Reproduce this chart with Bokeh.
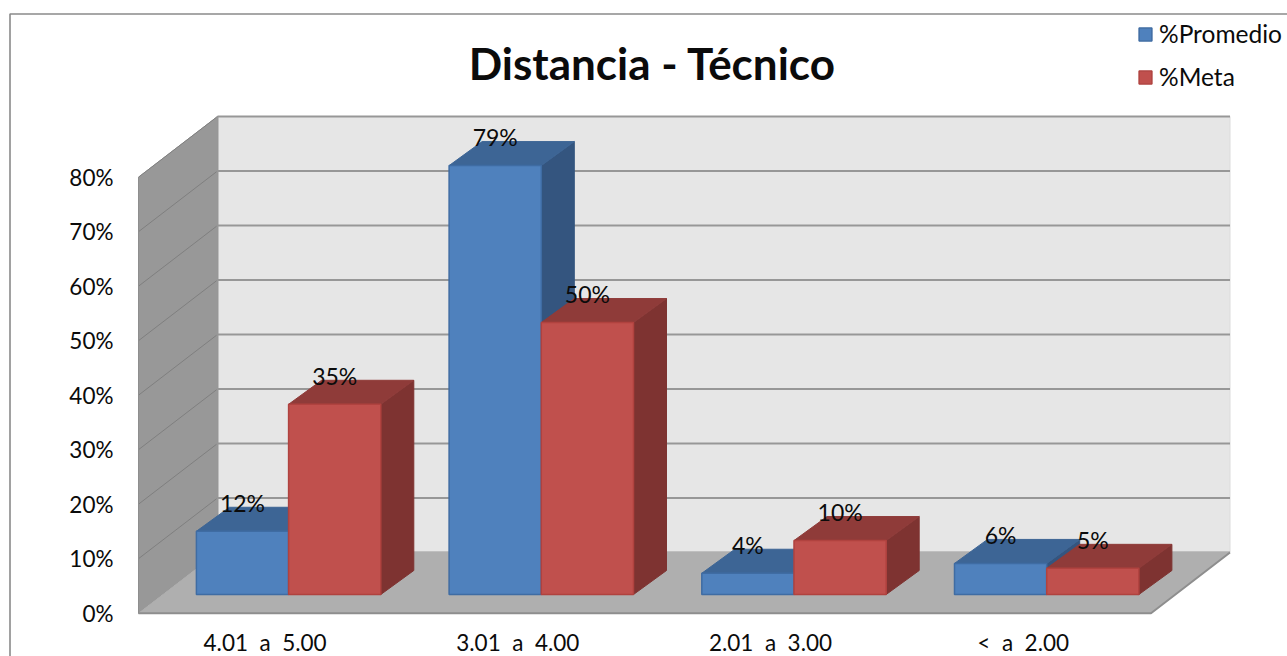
from bokeh.embed import file_html
from bokeh.resources import INLINE
from bokeh.plotting import figure
from bokeh.models import ColumnDataSource, FixedTicker, Legend, LegendItem
from bokeh.core.properties import value

# ---- data ----
categories = ["4.01\u00a0 a \u00a05.00", "3.01\u00a0 a \u00a04.00", "2.01\u00a0 a \u00a03.00", "<\u00a0 a \u00a02.00"]
promedio = [11.6, 78.7, 3.9, 5.7]
meta = [34.9, 49.9, 9.9, 4.8]
y_ticks = [0, 10, 20, 30, 40, 50, 60, 70, 80]
y_tick_labels = ["0%", "10%", "20%", "30%", "40%", "50%", "60%", "70%", "80%"]
title_text = "Distancia - Técnico"
series_names = ["%Promedio", "%Meta"]

# ---- layout ----
W, H = 1287, 656
PX_X = 252.7          # pixels per category
PX_Y = 5.45           # pixels per percent
X0_PX = 264.6         # page x of first category on the front plane
Y0_PX = 612.7         # page y of 0% on the front plane


def X(px):
    return (px - X0_PX) / PX_X


def Y(py):
    return (Y0_PX - py) / PX_Y


x_start, x_end = X(0), X(W)
y_start, y_end = Y(H), Y(0)

# plot box
WALL_L = X(138)
WALL_R = X(1150.5)
DEPTH_X = 79 / PX_X
DEPTH_Y = 60.7 / PX_Y
TOP = y_ticks[-1]

# bars
BAR_W = 92.2 / PX_X
BAR_SHIFT_X = 23.5 / PX_X
BAR_BASE = 18.7 / PX_Y
BAR_DX = 33 / PX_X
BAR_DY = 24 / PX_Y

FONT = value("Lato")
TXT = "#0b0b0b"

p = figure(width=W, height=H, output_backend="svg", toolbar_location=None,
           x_range=(x_start, x_end), y_range=(y_start, y_end),
           min_border=0, min_border_left=0, min_border_right=0,
           min_border_top=0, min_border_bottom=0, outline_line_color=None,
           background_fill_color="white", border_fill_color="white")
p.grid.visible = False

# chart frame
p.line([X(9.5), X(9.5), X(W)], [y_start, Y(13.5), Y(13.5)], line_color="#8a8a8a", line_width=1.6)

# back wall
p.quad(left=[WALL_L + DEPTH_X], right=[WALL_R + DEPTH_X], bottom=[DEPTH_Y], top=[TOP + DEPTH_Y],
       fill_color="#E6E6E6", line_color="#DCDCDC", line_width=1)
# side wall
p.patch([WALL_L, WALL_L, WALL_L + DEPTH_X, WALL_L + DEPTH_X], [0, TOP, TOP + DEPTH_Y, DEPTH_Y],
        fill_color="#989898", line_color="#989898", line_width=1)

# gridlines
p.segment(x0=[WALL_L] * len(y_ticks), y0=y_ticks,
          x1=[WALL_L + DEPTH_X] * len(y_ticks), y1=[t + DEPTH_Y for t in y_ticks],
          line_color="#7f7f7f", line_width=1)
p.segment(x0=[WALL_L + DEPTH_X] * len(y_ticks), y0=[t + DEPTH_Y for t in y_ticks],
          x1=[WALL_R + DEPTH_X] * len(y_ticks), y1=[t + DEPTH_Y for t in y_ticks],
          line_color="#979797", line_width=2)
p.line([WALL_L + DEPTH_X] * 2, [DEPTH_Y, TOP + DEPTH_Y], line_color="#979797", line_width=2)

# floor
p.patch([WALL_L, WALL_L + DEPTH_X, WALL_R + DEPTH_X, WALL_R], [0, DEPTH_Y, DEPTH_Y, 0],
        fill_color="#AFAFAF", line_color="#AFAFAF", line_width=1)
p.line([WALL_L, WALL_L], [0, TOP], line_color="#8e8e8e", line_width=1)
p.line([WALL_L, WALL_R, WALL_R + DEPTH_X], [0, 0, DEPTH_Y], line_color="#8e8e8e", line_width=2)


def bars(values, offset, front, top_c, side_c, edge):
    lefts = [i + BAR_SHIFT_X + offset * BAR_W - BAR_W for i in range(len(values))]
    rights = [l + BAR_W for l in lefts]
    bases = [BAR_BASE] * len(values)
    tops = [BAR_BASE + v for v in values]
    p.patches(
        xs=[[r, r + BAR_DX, r + BAR_DX, r] for r in rights],
        ys=[[b, b + BAR_DY, t + BAR_DY, t] for b, t in zip(bases, tops)],
        fill_color=side_c, line_color=side_c, line_width=1)
    p.patches(
        xs=[[l, l + BAR_DX, r + BAR_DX, r] for l, r in zip(lefts, rights)],
        ys=[[t, t + BAR_DY, t + BAR_DY, t] for t in tops],
        fill_color=top_c, line_color=top_c, line_width=1)
    face = p.quad(left=lefts, right=rights, bottom=bases, top=tops,
                  fill_color=front, line_color=edge, line_width=1.5)
    return face, lefts, rights, tops


blue = bars(promedio, 0, "#4F81BD", "#3D6595", "#34557F", "#3F6CA3")
red = bars(meta, 1, "#C0504D", "#8F3B39", "#7E3331", "#B0423F")

# value labels
lab_x, lab_y, lab_t = [], [], []
for (face, ls, rs, ts), vals in ((blue, promedio), (red, meta)):
    for l, r, t, v in zip(ls, rs, ts, vals):
        lab_x.append((l + r) / 2)
        lab_y.append(t)
        lab_t.append(f"{round(v)}%")
p.text(x="x", y="y", text="t", source=ColumnDataSource(dict(x=lab_x, y=lab_y, t=lab_t)),
       text_font=FONT, text_font_size="23px", text_color=TXT,
       text_align="center", text_baseline="middle", y_offset=-28.5)

# title
p.text(x=[X(652)], y=[Y(62)], text=[title_text], text_font=FONT, text_font_size="44px",
       text_font_style="bold", text_color=TXT, text_align="center", text_baseline="middle")

# axes, drawn inside the full-page frame
ya = p.yaxis[0]
ya.fixed_location = WALL_L
ya.ticker = FixedTicker(ticks=y_ticks)
ya.major_label_overrides = dict(zip(y_ticks, y_tick_labels))
ya.major_label_text_font = "Lato"
ya.major_label_text_font_size = "22.5px"
ya.major_label_text_color = TXT
ya.major_label_standoff = 19
ya.axis_line_color = None
ya.major_tick_line_color = None
ya.minor_tick_line_color = None

xa = p.xaxis[0]
xa.fixed_location = 0
xa.ticker = FixedTicker(ticks=list(range(len(categories))))
xa.major_label_overrides = dict(zip(range(len(categories)), categories))
xa.major_label_text_font = "Lato"
xa.major_label_text_font_size = "22.5px"
xa.major_label_text_color = TXT
xa.major_label_standoff = 10
xa.axis_line_color = None
xa.major_tick_line_color = None
xa.minor_tick_line_color = None

# legend
legend = Legend(items=[LegendItem(label=series_names[0], renderers=[blue[0]]),
                       LegendItem(label=series_names[1], renderers=[red[0]])],
                location=(1137, H - 91), orientation="vertical",
                background_fill_alpha=0, border_line_color=None,
                label_text_font="Lato", label_text_font_size="24.5px", label_text_color=TXT,
                glyph_width=16, glyph_height=16, label_standoff=6, spacing=14,
                padding=0, margin=0, label_height=16)
p.add_layout(legend)

open("out.html", "w").write(file_html(p, INLINE))
